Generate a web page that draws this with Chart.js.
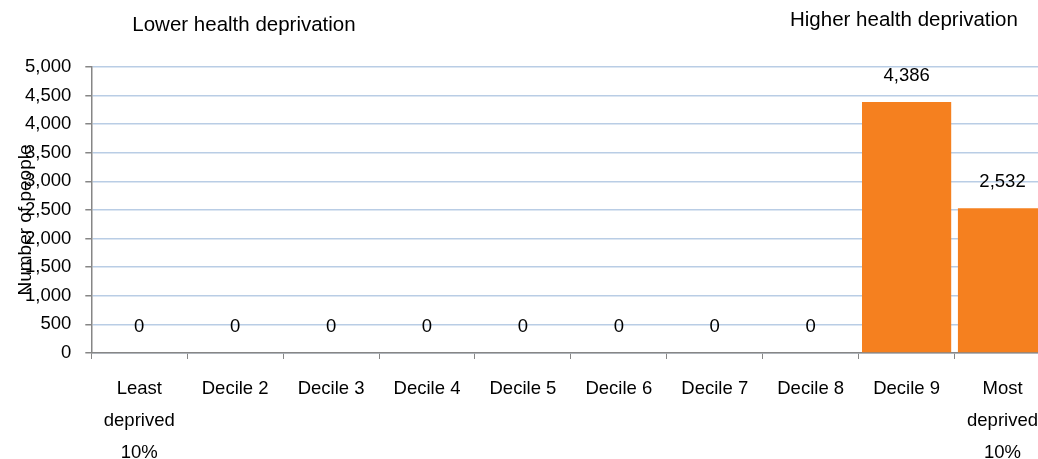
<!DOCTYPE html>
<html>
<head>
<meta charset="utf-8">
<script src="https://cdn.jsdelivr.net/npm/chart.js@4"></script>
<style>
  html, body { margin: 0; padding: 0; background: #fff; overflow: hidden; }
  #wrap { position: relative; width: 1052px; height: 483px; }
</style>
</head>
<body>
<div id="wrap"><canvas id="chart"></canvas></div>
<script>
const categories = [
  ['Least', 'deprived', '10%'],
  'Decile 2', 'Decile 3', 'Decile 4', 'Decile 5',
  'Decile 6', 'Decile 7', 'Decile 8', 'Decile 9',
  ['Most', 'deprived', '10%']
];
const people = [0, 0, 0, 0, 0, 0, 0, 0, 4386, 2532];
const yTicks = [0, 500, 1000, 1500, 2000, 2500, 3000, 3500, 4000, 4500, 5000];

const FONT = "'Liberation Sans', Arial, sans-serif";

// value labels above each bar
const valueLabels = {
  id: 'valueLabels',
  afterDatasetsDraw(chart) {
    const ctx = chart.ctx;
    const meta = chart.getDatasetMeta(0);
    ctx.save();
    ctx.font = '18.5px ' + FONT;
    ctx.fillStyle = '#000';
    ctx.textAlign = 'center';
    ctx.textBaseline = 'middle';
    meta.data.forEach(function(bar, i) {
      ctx.fillText(people[i].toLocaleString('en-US'), bar.x, bar.y - 26);
    });
    ctx.restore();
  }
};

// side notes + y axis title (drawn over the tick labels like the original)
const notes = {
  id: 'notes',
  afterDraw(chart) {
    const ctx = chart.ctx;
    const a = chart.chartArea;
    ctx.save();
    ctx.fillStyle = '#000';
    ctx.textBaseline = 'middle';
    ctx.font = '20.5px ' + FONT;
    ctx.textAlign = 'left';
    ctx.fillText('Lower health deprivation', a.left + 41, 25);
    ctx.fillText('Higher health deprivation', 790, 20);
    ctx.translate(26, (a.top + a.bottom) / 2 + 10);
    ctx.rotate(-Math.PI / 2);
    ctx.textAlign = 'center';
    ctx.font = '19px ' + FONT;
    ctx.fillText('Number of people', 0, 0);
    ctx.restore();
  }
};

new Chart(document.getElementById('chart'), {
  type: 'bar',
  data: {
    labels: categories,
    datasets: [{
      data: people,
      backgroundColor: '#F5801F',
      borderWidth: 0,
      barPercentage: 0.93,
      categoryPercentage: 1
    }]
  },
  options: {
    responsive: true,
    maintainAspectRatio: false,
    animation: false,
    layout: { padding: { top: 67, left: 11, right: 0, bottom: 0 } },
    plugins: {
      legend: { display: false },
      tooltip: { enabled: false }
    },
    scales: {
      x: {
        offset: true,
        grid: {
          offset: true,
          drawOnChartArea: false,
          tickLength: 6,
          tickColor: '#868686'
        },
        border: { color: '#868686', width: 1.5 },
        ticks: {
          color: '#000',
          padding: 14,
          maxRotation: 0,
          autoSkip: false,
          font: { family: FONT, size: 18.5, lineHeight: 1.73 }
        }
      },
      y: {
        min: 0,
        max: 5000,
        afterBuildTicks(axis) {
          axis.ticks = yTicks.map(function(v) { return { value: v }; });
        },
        grid: {
          color: '#B9CDE5',
          lineWidth: 1.5,
          tickLength: 6,
          tickColor: '#868686'
        },
        border: { color: '#868686', width: 1.5 },
        ticks: {
          color: '#000',
          padding: 14,
          font: { family: FONT, size: 18.5 },
          callback: function(v) { return v.toLocaleString('en-US'); }
        }
      }
    }
  },
  plugins: [valueLabels, notes]
});
</script>
</body>
</html>
